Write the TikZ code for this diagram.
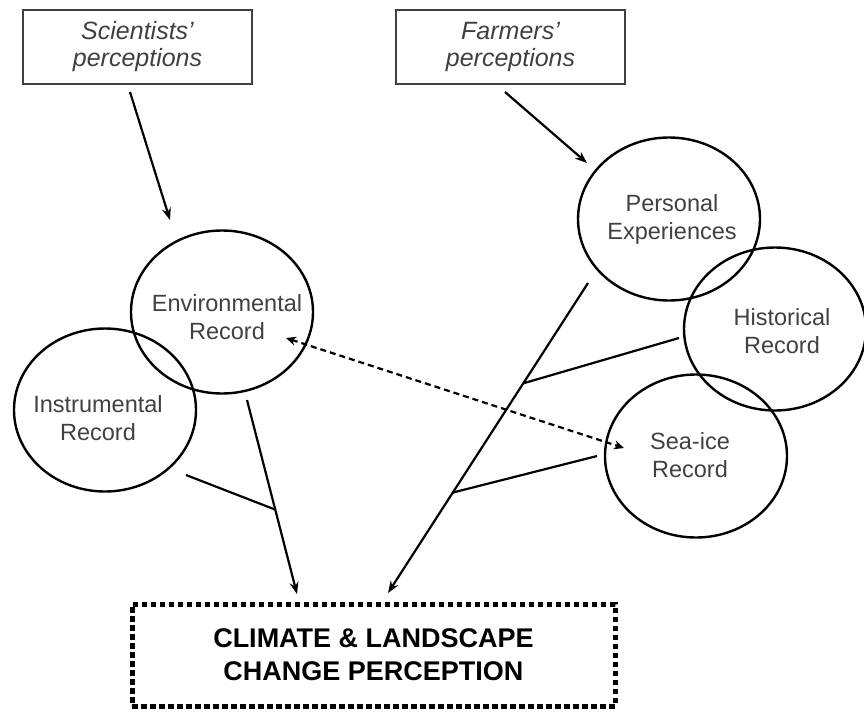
\documentclass[tikz,border=0pt]{standalone}
\usepackage{fontspec}
\setmainfont{Liberation Sans}
\usetikzlibrary{shapes.geometric,arrows.meta,calc}
\begin{document}
\begin{tikzpicture}[x=1pt,y=-1pt,
  persbox/.style={draw=black!75,line width=1.5pt,minimum width=229pt,minimum height=74pt,inner sep=0pt,align=center,font=\fontsize{25}{27}\selectfont\itshape,text=black!75},
  rec/.style={draw,ellipse,line width=2.4pt,minimum width=182pt,minimum height=163pt,inner sep=0pt},
  rect/.style={font=\fontsize{23.5}{28}\selectfont,text=black!75,align=center},
  conn/.style={line width=2.2pt},
  arr/.style={conn,-{Stealth[length=12pt,width=9pt]}},
  darr/.style={line width=2.2pt,dash pattern=on 6pt off 4pt,{Stealth[length=10pt,width=9pt]}-{Stealth[length=10pt,width=9pt]}},
  resbox/.style={draw,line width=5pt,dash pattern=on 5.5pt off 3.5pt,minimum width=483pt,minimum height=102pt,inner sep=0pt,align=center,font=\fontsize{27}{33}\selectfont\bfseries}]
\useasboundingbox (0,0) rectangle (864,715);
% top boxes
\node[persbox] (sci) at (137.5,47) {Scientists'\\perceptions};
\node[persbox] (farm) at (510.5,47) {Farmers'\\perceptions};
% records
\node[rec] (env) at (222,312) {};
\node[rect] (envt) at (227,317) {Environmental\\Record};
\node[rec] (ins) at (105,410) {};
\node[rect] (inst) at (98,418) {Instrumental\\Record};
\node[rec] (pers) at (669,219) {};
\node[rect] (perst) at (672,219) {Personal\\Experiences};
\node[rec] (hist) at (775,329) {};
\node[rect] (histt) at (782,331) {Historical\\Record};
\node[rec] (sea) at (696,456) {};
\node[rect] (seat) at (690,455) {Sea-ice\\Record};
% result
\node[resbox] (res) at (373.5,655) {CLIMATE \& LANDSCAPE\\CHANGE PERCEPTION};
% connector coordinates
\coordinate (s0) at (130,92);
\coordinate (s1) at (170,220);
\coordinate (f0) at (505,92);
\coordinate (f1) at (587,163);
\coordinate (e0) at (247,400);
\coordinate (e1) at (297,594);
\coordinate (i0) at (186,475);
\coordinate (p0) at (588,283);
\coordinate (p1) at (388,593);
\coordinate (h0) at (679,338);
\coordinate (q0) at (597,456);
\coordinate (d0) at (286,338);
\coordinate (d1) at (624,448);
\coordinate (j1) at ($(e0)!0.565!(e1)$);
\coordinate (j2) at ($(p0)!0.3236!(p1)$);
\coordinate (j3) at ($(p0)!0.676!(p1)$);
% connectors
\draw[arr] (s0) -- (s1);
\draw[arr] (f0) -- (f1);
\draw[arr] (e0) -- (e1);
\draw[conn] (i0) -- (j1);
\draw[arr] (p0) -- (p1);
\draw[conn] (h0) -- (j2);
\draw[conn] (q0) -- (j3);
\draw[darr] (d0) -- (d1);
\end{tikzpicture}
\end{document}
